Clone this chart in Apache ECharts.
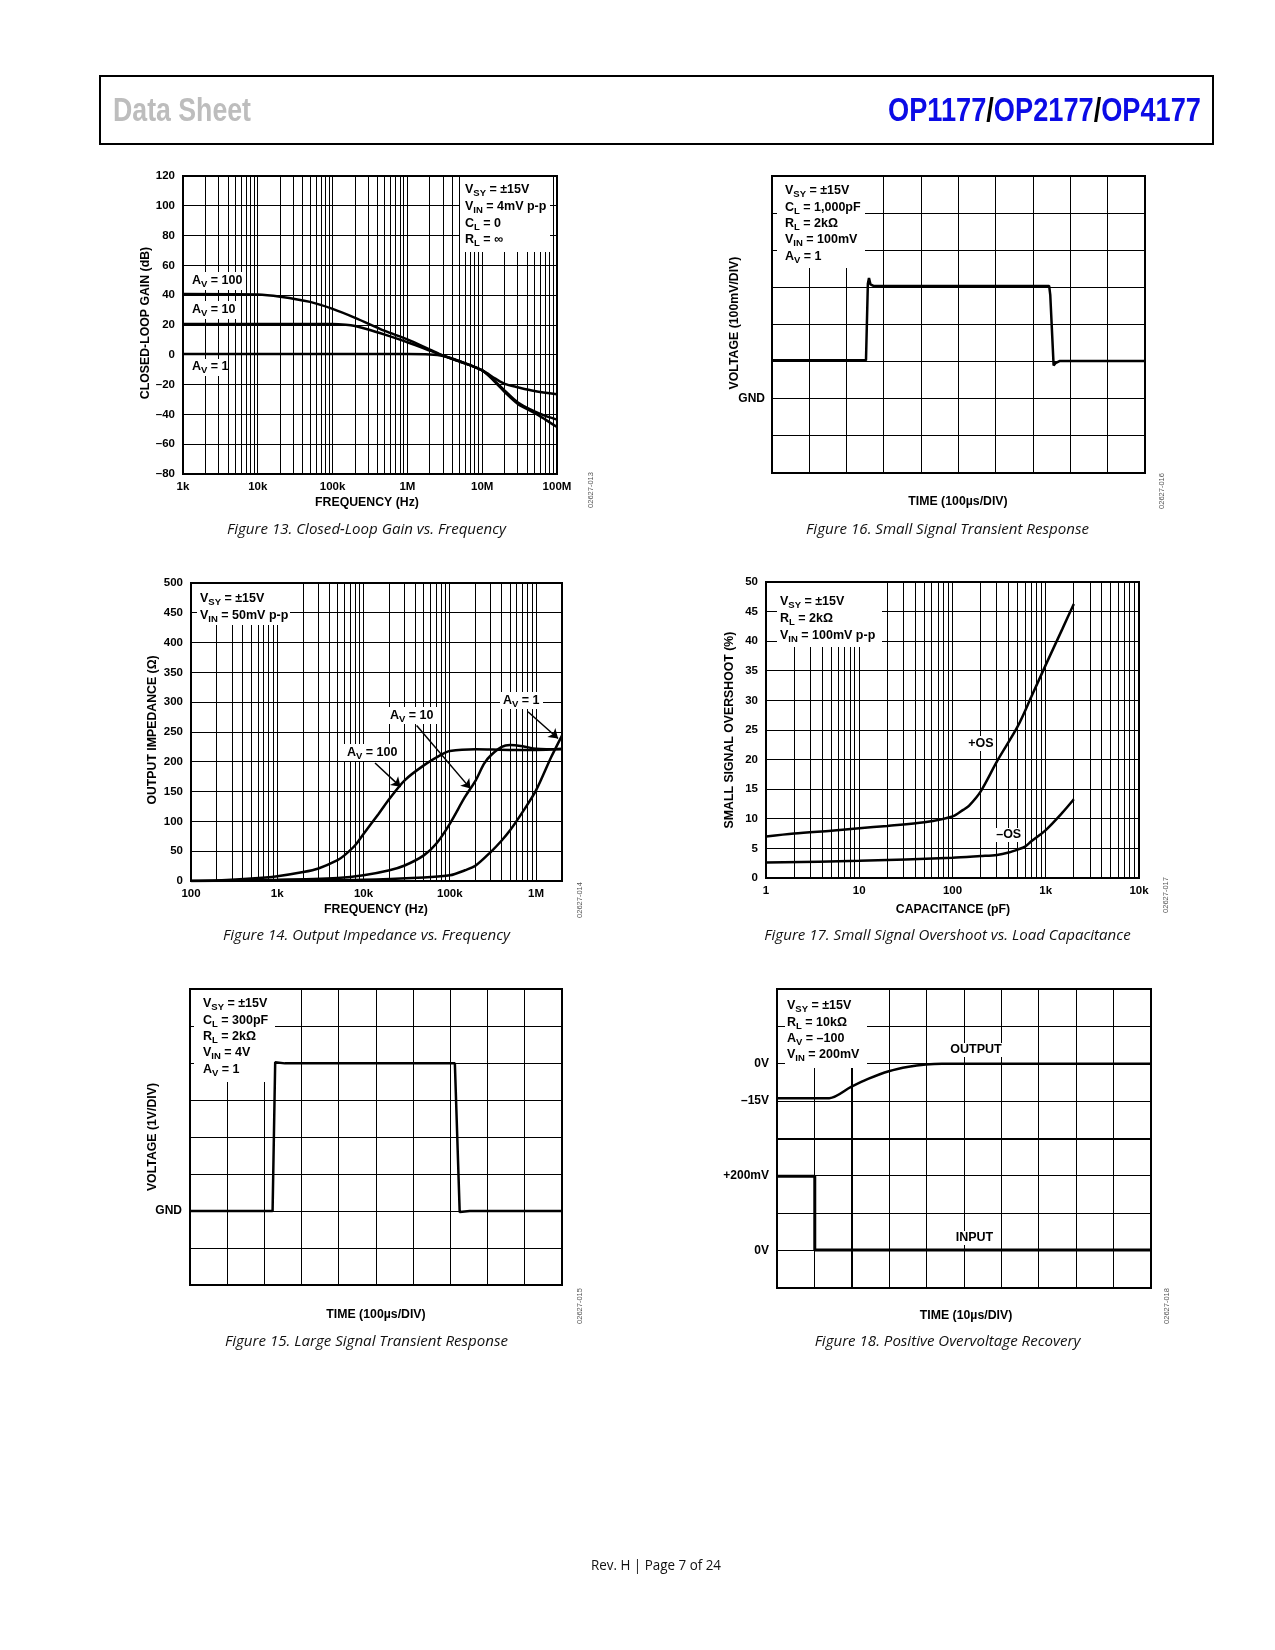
<!DOCTYPE html>
<html><head><meta charset="utf-8">
<script src="https://cdn.jsdelivr.net/npm/echarts@6/dist/echarts.min.js"></script>
<style>html,body{margin:0;padding:0;background:#fff}#c{width:1275px;height:1650px}</style>
</head><body><div id="c"></div>
<script>
// ================= DATA =================
// Figure 13: closed-loop gain (dB) vs frequency (Hz)
const fig13Av1 = [[1e3,0.5],[1e5,0.5],[1e6,0.5],[2e6,0.2],[3e6,-0.8],[5e6,-4.2],[1e7,-10.5],[1.5e7,-16],[2e7,-19.5],[3e7,-21.8],[5e7,-24.3],[1e8,-26.5]];
const fig13Av10 = [[1e3,20.7],[1e5,20.7],[1.5e5,20.2],[2e5,19.3],[3e5,17],[5e5,13.5],[1e6,8.4],[2e6,2.8],[3e6,-0.6],[5e6,-4.5],[1e7,-10.5],[1.5e7,-18],[2e7,-24],[3e7,-32],[5e7,-38],[7e7,-41],[1e8,-43.5]];
const fig13Av100 = [[1e3,40.8],[1e4,40.5],[2e4,39],[5e4,35.5],[1e5,30.8],[2e5,24.8],[5e5,16],[1e6,10.4],[2e6,3.5],[3e6,-0.6],[5e6,-4.5],[1e7,-10.5],[1.5e7,-18.5],[2e7,-25],[3e7,-33],[5e7,-39],[7e7,-43.5],[1e8,-48.5]];
const fig13XTicks = [1e3,1e4,1e5,1e6,1e7,1e8];
const fig13XLabels = ['1k','10k','100k','1M','10M','100M'];

// Figure 14: output impedance (ohm) vs frequency (Hz)
const fig14Av100 = [[100,0],[200,1],[500,4],[1e3,8],[2e3,15],[3e3,21],[5e3,35],[6e3,43],[8e3,60],[1e4,79],[1.5e4,113],[2e4,138],[3e4,169],[5e4,194],[8e4,212],[1e5,218],[2e5,221],[5e5,220],[1e6,220],[2e6,222]];
const fig14Av10 = [[100,0],[1e3,2],[5e3,5],[1e4,9.5],[2e4,18],[3e4,26],[5e4,43],[7e4,63],[1e5,96],[1.5e5,141],[2e5,169],[2.5e5,197],[3e5,211],[4e5,225],[5e5,228],[7e5,226],[1e6,222],[2e6,221]];
const fig14Av1 = [[100,0],[1e3,1],[1e4,2],[5e4,6],[1e5,9.5],[1.5e5,18],[2e5,26],[3e5,49],[4e5,68],[5e5,85],[7e5,116],[1e6,152],[1.5e6,208],[2e6,244]];
const fig14Arrows = [[[1.36e4,198],[2.69e4,158]],[[4.13e4,261],[1.74e5,155]],[[8.07e5,284],[1.8e6,239]]];
const fig14XTicks = [100,1e3,1e4,1e5,1e6];
const fig14XLabels = ['100','1k','10k','100k','1M'];

// Figure 15: large signal transient (x: divisions, y: divisions, GND = 0)
const fig15Time = [0,2.22,2.29,2.55,7.12,7.25,7.52,10];
const fig15Volt = [0,0,4.02,3.99,3.99,-0.03,0,0];
const fig15YTicks = [0];
const fig15YLabels = ['GND'];

// Figure 16: small signal transient
const fig16Time = [0,2.52,2.57,2.60,2.64,2.72,7.43,7.46,7.55,7.60,7.72,10];
const fig16Volt = [1.04,1.04,3.10,3.25,3.08,3.04,3.04,2.80,0.90,0.96,1.02,1.02];
const fig16YTicks = [0];
const fig16YLabels = ['GND'];

// Figure 17: overshoot (%) vs capacitance (pF)
const fig17PosOS = [[1,7.0],[2,7.5],[5,8.0],[10,8.4],[20,8.8],[50,9.4],[100,10.4],[130,11.5],[150,12.2],[200,14.6],[300,19.7],[500,25.6],[700,30.6],[1000,36],[1500,42],[2000,46.3]];
const fig17NegOS = [[1,2.6],[10,2.9],[100,3.4],[200,3.7],[300,3.9],[400,4.3],[500,4.8],[600,5.3],[700,6.2],[1000,8.1],[1500,11],[2000,13.3]];
const fig17XTicks = [1,10,100,1e3,1e4];
const fig17XLabels = ['1','10','100','1k','10k'];

// Figure 18: positive overvoltage recovery (divisions from bottom)
const fig18OutTime = [0,1.40,1.98,2.45,2.99,3.52,3.98,4.41,10];
const fig18OutVolt = [5.08,5.08,5.38,5.60,5.80,5.92,5.98,6.0,6.0];
const fig18InTime = [0,1.01,1.01,10];
const fig18InVolt = [2.99,2.99,1.02,1.02];
const fig18YTicks = [6,5,3,1];
const fig18YLabels = ['0V','–15V','+200mV','0V'];

// ================= LAYOUT / STYLE =================
const FONT = "'Liberation Sans', Arial, sans-serif";
const CAPFONT = "'Open Sans', 'Noto Sans', sans-serif";
const G = [
  {left:183, top:176, width:374, height:298},  // 0 fig13
  {left:772, top:176, width:373, height:297},  // 1 fig16
  {left:191, top:583, width:371, height:298},  // 2 fig14
  {left:766, top:582, width:373, height:296},  // 3 fig17
  {left:190, top:989, width:372, height:296},  // 4 fig15
  {left:777, top:989, width:374, height:299}   // 5 fig18
];
const LBL = {color:'#000', fontFamily:FONT, fontWeight:'bold', fontSize:11.5};

const zip = (a,b) => a.map((v,i)=>[v,b[i]]);
function labelFor(v, ticks, labels, isLog) {
  for (let i=0;i<ticks.length;i++) {
    const d = isLog ? Math.abs(Math.log10(v)-Math.log10(ticks[i])) : Math.abs(v-ticks[i]);
    if (d < 1e-6) return labels[i];
  }
  return '';
}
function logAxis(gi,min,max,ticks,labels,margin){
  return {type:'log',logBase:10,gridIndex:gi,min,max,
    axisLine:{show:false},axisTick:{show:false},splitLine:{show:false},minorTick:{show:false},
    axisLabel:Object.assign({},LBL,{margin,formatter:v=>labelFor(v,ticks,labels,true)})};
}
function valAxis(gi,min,max,interval,formatter,margin,fontSize){
  return {type:'value',gridIndex:gi,min,max,interval,
    axisLine:{show:false},axisTick:{show:false},splitLine:{show:false},
    axisLabel:Object.assign({},LBL,{margin,fontSize:fontSize||11.5,formatter})};
}
function hiddenAxis(gi,min,max){
  return {type:'value',gridIndex:gi,min,max,interval:1,axisLine:{show:false},axisTick:{show:false},splitLine:{show:false},axisLabel:{show:false}};
}
function crisp(v,w){ return (w%2===1) ? Math.round(v-0.5)+0.5 : Math.round(v); }
function gridSeries(gi, vx, hy, xr, yr, thick){
  const kinds=[], data=[];
  vx.forEach(v=>{kinds.push(0);data.push([v,yr[0]]);});
  hy.forEach(v=>{kinds.push(1);data.push([xr[0],v]);});
  return {type:'custom',xAxisIndex:gi,yAxisIndex:gi,z:1,silent:true,animation:false,data,
    renderItem:(params,api)=>{
      const i=params.dataIndex, k=kinds[i];
      const val = k===0?data[i][0]:data[i][1];
      const w = (thick && thick(k,val)) || 1;
      if(k===0){
        const a=api.coord([val,yr[0]]), b=api.coord([val,yr[1]]);
        const x=crisp(a[0],w);
        return {type:'line',shape:{x1:x,y1:a[1],x2:x,y2:b[1]},style:{stroke:'#000',lineWidth:w}};
      } else {
        const a=api.coord([xr[0],val]), b=api.coord([xr[1],val]);
        const y=crisp(a[1],w);
        return {type:'line',shape:{x1:a[0],y1:y,x2:b[0],y2:y},style:{stroke:'#000',lineWidth:w}};
      }
    }};
}
function logLines(e0,e1,maxV){
  const out=[];
  for(let e=e0;e<=e1;e++) for(let k=1;k<=9;k++){const v=k*Math.pow(10,e); if(v<=maxV*1.0001) out.push(v);}
  return out;
}
function range(a,b,s){const o=[];for(let v=a;v<=b+1e-9;v+=s)o.push(+v.toFixed(6));return o;}
function curve(gi,data,opt){
  opt=opt||{};
  return Object.assign({type:'line',xAxisIndex:gi,yAxisIndex:gi,data,showSymbol:false,symbol:'none',
    smooth:opt.smooth===undefined?0.3:opt.smooth,lineStyle:{color:'#000',width:opt.width||2.5},
    z:5,silent:true,animation:false,emphasis:{disabled:true}},opt.extra||{});
}

// ---- text helpers ----
const mctx = document.createElement('canvas').getContext('2d');
function measure(t,font){mctx.font=font;return mctx.measureText(t).width;}
function richify(s){
  const parts=s.split(/_\{([^}]*)\}/);
  let out='';
  parts.forEach((p,i)=>{ if(p==='') return; out += (i%2===0)?'{m|'+p+'}':'{s|'+p+'}'; });
  return out;
}
const RICH = {
  m:{fontFamily:FONT,fontWeight:'bold',fontSize:12.5,lineHeight:17,verticalAlign:'middle',fill:'#000',color:'#000'},
  s:{fontFamily:FONT,fontWeight:'bold',fontSize:9.5,lineHeight:10,verticalAlign:'bottom',fill:'#000',color:'#000'}
};
function rt(x,y,s,align){
  return {type:'text',x,y,z:15,silent:true,style:{text:richify(s),rich:RICH,x:0,y:0,
    align:align||'left',textAlign:align||'left',verticalAlign:'middle',textVerticalAlign:'middle',
    fontFamily:FONT,fontWeight:'bold',fontSize:12.5,fill:'#000'}};
}
function tx(x,y,text,o){
  o=o||{};
  const font=(o.style||'normal')+' '+(o.weight||'bold')+' '+(o.size||12)+'px '+(o.family||FONT);
  return {type:'text',x,y,rotation:o.rotation||0,scaleX:o.scaleX||1,z:15,silent:true,
    style:{text,x:0,y:0,font,fill:o.color||'#000',align:o.align||'center',textAlign:o.align||'center',
      verticalAlign:'middle',textVerticalAlign:'middle'}};
}
function whiteBox(x,y,w,h){return {type:'rect',z:3,silent:true,shape:{x,y,width:w,height:h},style:{fill:'#fff',stroke:null}};}
function border(g){return {type:'rect',z:12,silent:true,shape:{x:g.left,y:g.top,width:g.width,height:g.height},style:{fill:'none',stroke:'#000',lineWidth:2}};}

const graphics = [];
// header
graphics.push({type:'rect',z:12,silent:true,shape:{x:100,y:76,width:1113,height:68},style:{fill:'none',stroke:'#000',lineWidth:2}});
const HF = 'bold 34px '+FONT;
graphics.push(tx(113,112,'Data Sheet',{size:34,align:'left',color:'#bdbdbd',scaleX:138/measure('Data Sheet',HF)}));
const opS = 313/measure('OP1177/OP2177/OP4177',HF);
graphics.push({type:'text',x:888,y:112,scaleX:opS,z:15,silent:true,style:{
  text:'{b|OP1177}{k|/}{b|OP2177}{k|/}{b|OP4177}',x:0,y:0,align:'left',textAlign:'left',verticalAlign:'middle',textVerticalAlign:'middle',
  font:HF,rich:{b:{fontFamily:FONT,fontWeight:'bold',fontSize:34,fill:'#0b0be6',color:'#0b0be6'},k:{fontFamily:FONT,fontWeight:'bold',fontSize:34,fill:'#000',color:'#000'}}}});

// captions & footer
const CF = 'italic normal 15px '+CAPFONT;
const capS = 279/measure('Figure 13. Closed-Loop Gain vs. Frequency',CF);
const capO = {style:'italic',weight:'normal',size:15,family:CAPFONT,scaleX:capS,color:'#111'};
graphics.push(tx(366.5,530,'Figure 13. Closed-Loop Gain vs. Frequency',capO));
graphics.push(tx(947.5,530,'Figure 16. Small Signal Transient Response',capO));
graphics.push(tx(366.5,936,'Figure 14. Output Impedance vs. Frequency',capO));
graphics.push(tx(947.5,936,'Figure 17. Small Signal Overshoot vs. Load Capacitance',capO));
graphics.push(tx(366.5,1342,'Figure 15. Large Signal Transient Response',capO));
graphics.push(tx(947.5,1342,'Figure 18. Positive Overvoltage Recovery',capO));
const FF='normal normal 15px '+CAPFONT;
graphics.push(tx(656,1566,'Rev. H | Page 7 of 24',{weight:'normal',size:15,family:CAPFONT,color:'#111',scaleX:130/measure('Rev. H | Page 7 of 24',FF)}));

// figure IDs
const idO={weight:'normal',size:7.5,color:'#555',rotation:Math.PI/2};
graphics.push(tx(591,490,'02627-013',idO));
graphics.push(tx(1162,491,'02627-016',idO));
graphics.push(tx(580,900,'02627-014',idO));
graphics.push(tx(1166,895,'02627-017',idO));
graphics.push(tx(580,1306,'02627-015',idO));
graphics.push(tx(1167,1306,'02627-018',idO));

// axis titles
const ttl={size:12.3};
const ttlR={size:12.3,rotation:Math.PI/2};
graphics.push(tx(146,323,'CLOSED-LOOP GAIN (dB)',ttlR));
graphics.push(tx(367,503,'FREQUENCY (Hz)',ttl));
graphics.push(tx(735,323,'VOLTAGE (100mV/DIV)',ttlR));
graphics.push(tx(958,502,'TIME (100µs/DIV)',ttl));
graphics.push(tx(153,730,'OUTPUT IMPEDANCE (Ω)',ttlR));
graphics.push(tx(376,910,'FREQUENCY (Hz)',ttl));
graphics.push(tx(730,730,'SMALL SIGNAL OVERSHOOT (%)',ttlR));
graphics.push(tx(953,910,'CAPACITANCE (pF)',ttl));
graphics.push(tx(153,1137,'VOLTAGE (1V/DIV)',ttlR));
graphics.push(tx(376,1315,'TIME (100µs/DIV)',ttl));
graphics.push(tx(966,1316,'TIME (10µs/DIV)',ttl));

// borders
G.forEach(g=>graphics.push(border(g)));

// annotation boxes + texts
// fig13
graphics.push(whiteBox(460,177,90,75));
['V_{SY} = ±15V','V_{IN} = 4mV p-p','C_{L} = 0','R_{L} = ∞'].forEach((s,i)=>graphics.push(rt(465,[190,207,224,240][i],s)));
graphics.push(whiteBox(184,272,58,18)); graphics.push(rt(192,281,'A_{V} = 100'));
graphics.push(whiteBox(184,301,52,18)); graphics.push(rt(192,310,'A_{V} = 10'));
graphics.push(whiteBox(184,359,44,17)); graphics.push(rt(192,367,'A_{V} = 1'));
// fig16
graphics.push(whiteBox(777,177,88,91));
['V_{SY} = ±15V','C_{L} = 1,000pF','R_{L} = 2kΩ','V_{IN} = 100mV','A_{V} = 1'].forEach((s,i)=>graphics.push(rt(785,[191,207.5,223.5,240,256.5][i],s)));
// fig14
graphics.push(whiteBox(197,584,93,41));
['V_{SY} = ±15V','V_{IN} = 50mV p-p'].forEach((s,i)=>graphics.push(rt(200,[599,616][i],s)));
graphics.push(whiteBox(343,744,60,17)); graphics.push(rt(347,752.5,'A_{V} = 100'));
graphics.push(whiteBox(386,707,51,17)); graphics.push(rt(390,715.5,'A_{V} = 10'));
graphics.push(whiteBox(500,692,43,17)); graphics.push(rt(503,701,'A_{V} = 1'));
// fig17
graphics.push(whiteBox(777,583,105,64));
['V_{SY} = ±15V','R_{L} = 2kΩ','V_{IN} = 100mV p-p'].forEach((s,i)=>graphics.push(rt(780,[602,618.5,635.5][i],s)));
graphics.push(whiteBox(967,736,28,15)); graphics.push(tx(981,743.3,'+OS',{size:12.5}));
graphics.push(whiteBox(995,828,27,14)); graphics.push(tx(1008.7,834.3,'–OS',{size:12.5}));
// fig15
graphics.push(whiteBox(194,990,81,92));
['V_{SY} = ±15V','C_{L} = 300pF','R_{L} = 2kΩ','V_{IN} = 4V','A_{V} = 1'].forEach((s,i)=>graphics.push(rt(203,[1004,1021,1037,1053,1070][i],s)));
// fig18
graphics.push(whiteBox(785,990,82,78));
['V_{SY} = ±15V','R_{L} = 10kΩ','A_{V} = –100','V_{IN} = 200mV'].forEach((s,i)=>graphics.push(rt(787,[1006,1022.5,1039,1055][i],s)));
graphics.push(whiteBox(950,1043,53,14)); graphics.push(tx(976,1049.5,'OUTPUT',{size:12.5}));
graphics.push(whiteBox(955,1231,40,14)); graphics.push(tx(974.5,1238,'INPUT',{size:12.5}));

// ================= OPTION =================
const option = {
  animation:false,
  backgroundColor:'#fff',
  grid: G.map(g=>Object.assign({containLabel:false,show:false},g)),
  xAxis: [
    logAxis(0,1e3,1e8,fig13XTicks,fig13XLabels,7),
    hiddenAxis(1,0,10),
    logAxis(2,100,2e6,fig14XTicks,fig14XLabels,7),
    logAxis(3,1,1e4,fig17XTicks,fig17XLabels,7),
    hiddenAxis(4,0,10),
    hiddenAxis(5,0,10)
  ],
  yAxis: [
    valAxis(0,-80,120,20,v=>String(v).replace('-','–'),8),
    valAxis(1,-2,6,1,v=>labelFor(v,fig16YTicks,fig16YLabels,false),7,12),
    valAxis(2,0,500,50,v=>String(v),8),
    valAxis(3,0,50,5,v=>String(v),8),
    valAxis(4,-2,6,1,v=>labelFor(v,fig15YTicks,fig15YLabels,false),8,12),
    valAxis(5,0,8,1,v=>labelFor(v,fig18YTicks,fig18YLabels,false),8,12)
  ],
  graphic: {elements: graphics},
  series: [
    gridSeries(0, logLines(3,7,1e8).slice(1), range(-60,100,20), [1e3,1e8], [-80,120]),
    gridSeries(1, range(1,9,1), range(-1,5,1), [0,10], [-2,6]),
    gridSeries(2, logLines(2,6,2e6).slice(1), range(50,450,50), [100,2e6], [0,500]),
    gridSeries(3, logLines(0,3,1e4).slice(1), range(5,45,5), [1,1e4], [0,50]),
    gridSeries(4, range(1,9,1), range(-1,5,1), [0,10], [-2,6]),
    gridSeries(5, range(1,9,1), range(1,7,1), [0,10], [0,8], (k,v)=>((k===0&&v===2)||(k===1&&v===4))?2:1),
    curve(0,fig13Av1,{width:2.5}),
    curve(0,fig13Av10,{width:2.5}),
    curve(0,fig13Av100,{width:2.5}),
    curve(1,zip(fig16Time,fig16Volt),{smooth:false,width:2.5}),
    curve(2,fig14Av100,{width:2.5,extra:{markLine:{silent:true,animation:false,symbol:['none','arrow'],symbolSize:9,precision:6,
      label:{show:false},emphasis:{disabled:true},lineStyle:{color:'#000',width:1.5,type:'solid'},
      data:fig14Arrows.map(a=>[{coord:a[0]},{coord:a[1]}])}}}),
    curve(2,fig14Av10,{width:2.5}),
    curve(2,fig14Av1,{width:2.5}),
    curve(3,fig17PosOS,{width:2.5}),
    curve(3,fig17NegOS,{width:2.5}),
    curve(4,zip(fig15Time,fig15Volt),{smooth:false,width:2.5}),
    curve(5,zip(fig18OutTime,fig18OutVolt),{smooth:0.3,width:2.5}),
    curve(5,zip(fig18InTime,fig18InVolt),{smooth:false,width:3})
  ]
};
const chart = echarts.init(document.getElementById('c'),null,{renderer:'canvas'});
chart.setOption(option);
</script></body></html>
